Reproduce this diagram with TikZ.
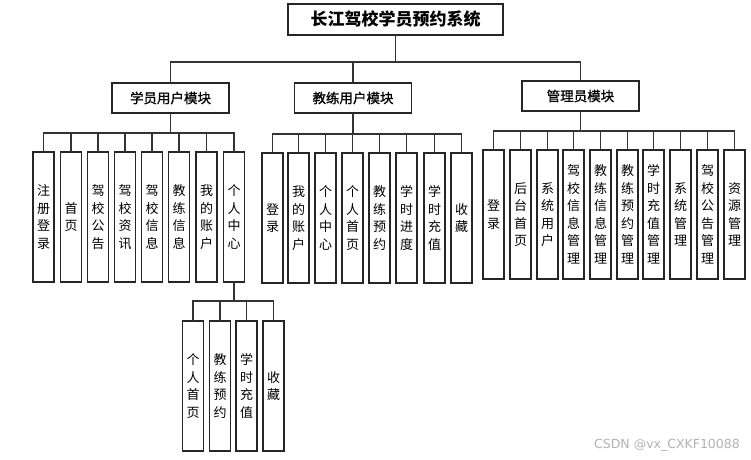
\documentclass[tikz,border=0pt]{standalone}
\usepackage{fontspec}
\setmainfont{Noto Sans CJK SC}
\newfontfamily\modfont{Noto Sans CJK SC}[FakeBold=1.2]
\newfontfamily\markfont{DejaVu Sans}
\begin{document}
\begin{tikzpicture}[x=1pt, y=1pt,
    titlebox/.style={draw=black!85, line width=1.3pt, inner sep=0pt, outer sep=0pt,
      minimum width=215pt, minimum height=31pt, font=\fontsize{17}{20}\selectfont\bfseries},
    modbox/.style={draw=black!85, line width=1.3pt, inner sep=0pt, outer sep=0pt,
      minimum width=117pt, minimum height=30pt, font=\modfont\fontsize{13.5}{16}\selectfont},
    leafbox/.style={draw=black!85, line width=1.3pt, inner sep=0pt, outer sep=0pt,
      minimum width=21pt, minimum height=130pt, align=center,
      font=\fontsize{13}{17.5}\selectfont},
    link/.style={draw=black!80, line width=1.1pt}]
  % Canvas of the reference size
  \useasboundingbox (0,0) rectangle (751,-459);

  % Title and the three modules
  \node[titlebox] (sys) at (395.5,-19.5) {长江驾校学员预约系统};
  \node[modbox] (stu) at (170.5,-98) {学员用户模块};
  \node[modbox] (coach) at (353,-98) {教练用户模块};
  \node[modbox] (admin) at (580.5,-96) {管理员模块};

  % Student module leaves
  \node[leafbox] (stu1) at (43.5,-217) {注\\册\\登\\录};
  \node[leafbox] (stu2) at (71,-217) {首\\页};
  \node[leafbox] (stu3) at (98,-217) {驾\\校\\公\\告};
  \node[leafbox] (stu4) at (125,-217) {驾\\校\\资\\讯};
  \node[leafbox] (stu5) at (152,-217) {驾\\校\\信\\息};
  \node[leafbox] (stu6) at (179,-217) {教\\练\\信\\息};
  \node[leafbox] (stu7) at (206.5,-217) {我\\的\\账\\户};
  \node[leafbox] (stu8) at (234,-217) {个\\人\\中\\心};

  % Personal centre leaves
  \node[leafbox] (pc1) at (193,-386) {个\\人\\首\\页};
  \node[leafbox] (pc2) at (220,-386) {教\\练\\预\\约};
  \node[leafbox] (pc3) at (246.5,-386) {学\\时\\充\\值};
  \node[leafbox] (pc4) at (273.5,-386) {收\\藏};

  % Coach module leaves
  \node[leafbox] (co1) at (272.5,-218) {登\\录};
  \node[leafbox] (co2) at (298.5,-218) {我\\的\\账\\户};
  \node[leafbox] (co3) at (325.5,-218) {个\\人\\中\\心};
  \node[leafbox] (co4) at (352.5,-218) {个\\人\\首\\页};
  \node[leafbox] (co5) at (379.5,-218) {教\\练\\预\\约};
  \node[leafbox] (co6) at (406.5,-218) {学\\时\\进\\度};
  \node[leafbox] (co7) at (434.5,-218) {学\\时\\充\\值};
  \node[leafbox] (co8) at (461.5,-218) {收\\藏};

  % Admin module leaves
  \node[leafbox, minimum height=129pt] (ad1) at (493.5,-214.5) {登\\录};
  \node[leafbox, minimum height=129pt] (ad2) at (520.5,-214.5) {后\\台\\首\\页};
  \node[leafbox, minimum height=129pt] (ad3) at (547.5,-214.5) {系\\统\\用\\户};
  \node[leafbox, minimum height=129pt] (ad4) at (573.5,-214.5) {驾\\校\\信\\息\\管\\理};
  \node[leafbox, minimum height=129pt] (ad5) at (600.5,-214.5) {教\\练\\信\\息\\管\\理};
  \node[leafbox, minimum height=129pt] (ad6) at (627.5,-214.5) {教\\练\\预\\约\\管\\理};
  \node[leafbox, minimum height=129pt] (ad7) at (653.5,-214.5) {学\\时\\充\\值\\管\\理};
  \node[leafbox, minimum height=129pt] (ad8) at (680.5,-214.5) {系\\统\\管\\理};
  \node[leafbox, minimum height=129pt] (ad9) at (707.5,-214.5) {驾\\校\\公\\告\\管\\理};
  \node[leafbox, minimum height=129pt] (ad10) at (734.5,-214.5) {资\\源\\管\\理};

  % Elbow links: title to modules
  \draw[link] (sys.south) -- ++(0,-27) -| (stu.north);
  \draw[link] (sys.south) -- ++(0,-27) -| (coach.north);
  \draw[link] (sys.south) -- ++(0,-27) -| (admin.north);

  % Student links
  \draw[link] (stu.south) -- ++(0,-20) -| (stu1.north);
  \draw[link] (stu.south) -- ++(0,-20) -| (stu2.north);
  \draw[link] (stu.south) -- ++(0,-20) -| (stu3.north);
  \draw[link] (stu.south) -- ++(0,-20) -| (stu4.north);
  \draw[link] (stu.south) -- ++(0,-20) -| (stu5.north);
  \draw[link] (stu.south) -- ++(0,-20) -| (stu6.north);
  \draw[link] (stu.south) -- ++(0,-20) -| (stu7.north);
  \draw[link] (stu.south) -- ++(0,-20) -| (stu8.north);

  % Personal centre links
  \draw[link] (stu8.south) -- ++(0,-19) -| (pc1.north);
  \draw[link] (stu8.south) -- ++(0,-19) -| (pc2.north);
  \draw[link] (stu8.south) -- ++(0,-19) -| (pc3.north);
  \draw[link] (stu8.south) -- ++(0,-19) -| (pc4.north);

  % Coach links
  \draw[link] (coach.south) -- ++(0,-21) -| (co1.north);
  \draw[link] (coach.south) -- ++(0,-21) -| (co2.north);
  \draw[link] (coach.south) -- ++(0,-21) -| (co3.north);
  \draw[link] (coach.south) -- ++(0,-21) -| (co4.north);
  \draw[link] (coach.south) -- ++(0,-21) -| (co5.north);
  \draw[link] (coach.south) -- ++(0,-21) -| (co6.north);
  \draw[link] (coach.south) -- ++(0,-21) -| (co7.north);
  \draw[link] (coach.south) -- ++(0,-21) -| (co8.north);

  % Admin links
  \draw[link] (admin.south) -- ++(0,-20) -| (ad1.north);
  \draw[link] (admin.south) -- ++(0,-20) -| (ad2.north);
  \draw[link] (admin.south) -- ++(0,-20) -| (ad3.north);
  \draw[link] (admin.south) -- ++(0,-20) -| (ad4.north);
  \draw[link] (admin.south) -- ++(0,-20) -| (ad5.north);
  \draw[link] (admin.south) -- ++(0,-20) -| (ad6.north);
  \draw[link] (admin.south) -- ++(0,-20) -| (ad7.north);
  \draw[link] (admin.south) -- ++(0,-20) -| (ad8.north);
  \draw[link] (admin.south) -- ++(0,-20) -| (ad9.north);
  \draw[link] (admin.south) -- ++(0,-20) -| (ad10.north);

  % Watermark
  \node[text=black!30, font=\markfont\fontsize{12.5}{14}\selectfont] (mark) at (667,-445) {CSDN @vx\_CXKF10088};
\end{tikzpicture}
\end{document}
